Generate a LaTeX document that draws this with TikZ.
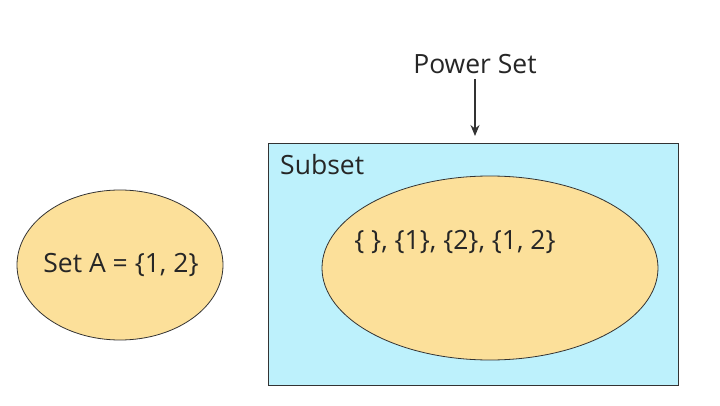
\documentclass[tikz,border=0pt]{standalone}
\usepackage{fontspec}
\setmainfont{Open Sans}
\usetikzlibrary{shapes.geometric,arrows.meta}
\definecolor{yel}{HTML}{FCE09A}
\definecolor{cy}{HTML}{BDF1FC}
\begin{document}
\begin{tikzpicture}[x=1pt,y=-1pt,
  lbl/.style={font=\fontsize{26.5}{30}\selectfont, text=black!85, inner sep=0pt},
  ell/.style={draw=black!80, line width=0.8pt, fill=yel}]
\useasboundingbox (0,0) rectangle (720,406);
\node[draw=black!80, line width=0.8pt, fill=cy, minimum width=410pt, minimum height=242pt, inner sep=0pt] (box) at (473,264) {};
\node[ell, ellipse, minimum width=206pt, minimum height=150pt] (a) at (120,265) {};
\node[lbl] (at) at (121,265) {Set A = \{1, 2\}};
\node[ell, ellipse, minimum width=336pt, minimum height=184pt] (e) at (490,268) {};
\node[lbl] (et) at (455,242) {\{ \}, \{1\}, \{2\}, \{1, 2\}};
\node[lbl, anchor=west] (sub) at (280,165) {Subset};
\node[lbl] (ps) at (475,64) {Power Set};
\coordinate (top) at (475,136);
\draw[-{Stealth[length=11pt,width=9pt]}, line width=1.2pt, black!80, shorten <=5pt] (ps.south) -- (top);
\end{tikzpicture}
\end{document}
